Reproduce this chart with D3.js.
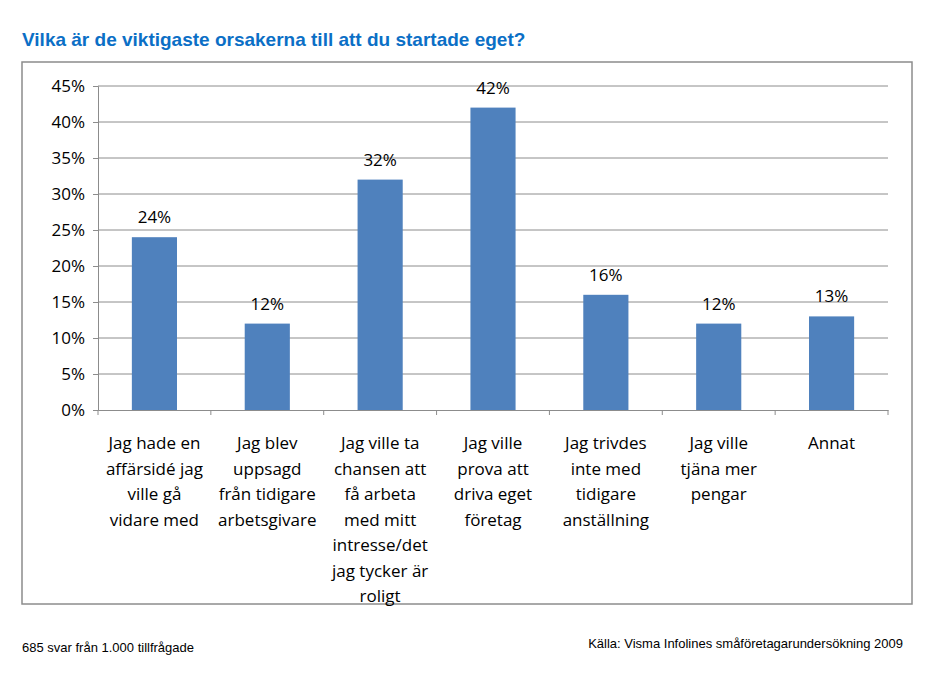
<!DOCTYPE html>
<html><head><meta charset="utf-8">
<script src="https://cdn.jsdelivr.net/npm/d3@7"></script>
<style>body{margin:0;background:#fff}</style></head>
<body><svg width="940" height="682"></svg>
<script>
// Chart data
const categories = [
  ['Jag hade en', 'affärsidé jag', 'ville gå', 'vidare med'],
  ['Jag blev', 'uppsagd', 'från tidigare', 'arbetsgivare'],
  ['Jag ville ta', 'chansen att', 'få arbeta', 'med mitt', 'intresse/det', 'jag tycker är', 'roligt'],
  ['Jag ville', 'prova att', 'driva eget', 'företag'],
  ['Jag trivdes', 'inte med', 'tidigare', 'anställning'],
  ['Jag ville', 'tjäna mer', 'pengar'],
  ['Annat']
];
const values = [24, 12, 32, 42, 16, 12, 13];
const yTicks = [0, 5, 10, 15, 20, 25, 30, 35, 40, 45];

const svg = d3.select('svg');
const font = '"Open Sans", "Noto Sans", sans-serif';
const x0 = 98, x1 = 888, yTop = 86, yBot = 410;

svg.append('text').attr('x', 22).attr('y', 46).text('Vilka är de viktigaste orsakerna till att du startade eget?')
  .attr('fill', '#0B6FC6').attr('font-family', 'Arial, "Liberation Sans", sans-serif')
  .attr('font-weight', 'bold').attr('font-size', 19);

svg.append('rect').attr('x', 22).attr('y', 62).attr('width', 890).attr('height', 542)
  .attr('fill', 'none').attr('stroke', '#8c8c8c').attr('stroke-width', 1.5);

const xScale = d3.scaleBand().domain(d3.range(values.length)).range([x0, x1]).paddingInner(0.6).paddingOuter(0.3);
const yScale = d3.scaleLinear().domain([0, 45]).range([yBot, yTop]);

const g = svg.append('g');
g.selectAll('.grid').data(yTicks.slice(1)).join('line')
  .attr('x1', x0).attr('x2', x1).attr('y1', d => yScale(d)).attr('y2', d => yScale(d))
  .attr('stroke', '#8c8c8c').attr('stroke-width', 1);

const yAxis = g.append('g').attr('transform', `translate(${x0},0)`)
  .call(d3.axisLeft(yScale).tickValues(yTicks).tickFormat(d => d + '%').tickSize(5).tickPadding(8));
yAxis.selectAll('text').attr('font-size', 17).attr('font-family', font).attr('fill', '#000');
yAxis.selectAll('line,path').attr('stroke', '#8c8c8c');

g.selectAll('.bar').data(values).join('rect')
  .attr('x', (d, i) => xScale(i)).attr('width', xScale.bandwidth())
  .attr('y', d => yScale(d)).attr('height', d => yBot - yScale(d)).attr('fill', '#4F81BD');

g.selectAll('.val').data(values).join('text')
  .attr('x', (d, i) => xScale(i) + xScale.bandwidth() / 2).attr('y', d => yScale(d) - 14)
  .attr('text-anchor', 'middle').attr('font-size', 17).attr('font-family', font).text(d => d + '%');

const xAxis = g.append('g').attr('transform', `translate(0,${yBot})`)
  .call(d3.axisBottom(xScale).tickSize(0).tickFormat(''));
xAxis.select('path').attr('stroke', '#8c8c8c');
const step = xScale.step();
d3.range(values.length + 1).forEach(i => {
  const xx = x0 + step * i;
  g.append('line').attr('x1', xx).attr('x2', xx).attr('y1', yBot).attr('y2', yBot + 5).attr('stroke', '#8c8c8c');
});

categories.forEach((lines, i) => {
  const t = g.append('text').attr('text-anchor', 'middle').attr('font-size', 17).attr('font-family', font);
  lines.forEach((l, j) => t.append('tspan').attr('x', xScale(i) + xScale.bandwidth() / 2)
    .attr('y', 449 + j * 25.5).text(l));
});

svg.append('text').attr('x', 22).attr('y', 652).text('685 svar från 1.000 tillfrågade')
  .attr('font-family', 'Arial, "Liberation Sans", sans-serif').attr('font-size', 13);
svg.append('text').attr('x', 903).attr('y', 648).attr('text-anchor', 'end')
  .text('Källa: Visma Infolines småföretagarundersökning 2009')
  .attr('font-family', 'Arial, "Liberation Sans", sans-serif').attr('font-size', 13);
</script></body></html>
